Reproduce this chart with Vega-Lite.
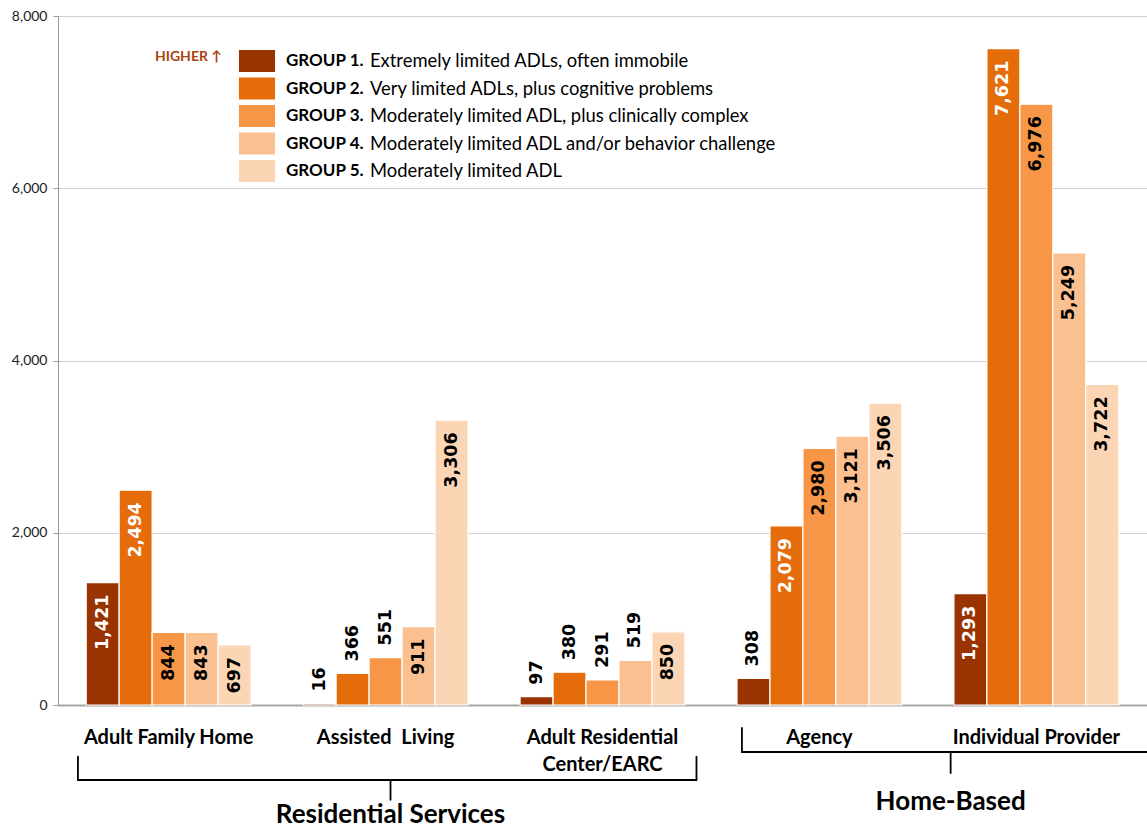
{
  "$schema": "https://vega.github.io/schema/vega-lite/v6.json",
  "autosize": {"type": "none"},
  "padding": {"left": 58, "top": 16, "right": 0, "bottom": 127},
  "width": 1089,
  "height": 689,
  "config": {
    "font": "Lato",
    "view": {"stroke": null},
    "legend": {"padding": 0}
  },
  "datasets": {
    "bars": [
      {"setting": "Adult Family Home", "group": "GROUP 1.", "desc": "Extremely limited ADLs, often immobile", "value": 1421},
      {"setting": "Adult Family Home", "group": "GROUP 2.", "desc": "Very limited ADLs, plus cognitive problems", "value": 2494},
      {"setting": "Adult Family Home", "group": "GROUP 3.", "desc": "Moderately limited ADL, plus clinically complex", "value": 844},
      {"setting": "Adult Family Home", "group": "GROUP 4.", "desc": "Moderately limited ADL and/or behavior challenge", "value": 843},
      {"setting": "Adult Family Home", "group": "GROUP 5.", "desc": "Moderately limited ADL", "value": 697},
      {"setting": "Assisted  Living", "group": "GROUP 1.", "desc": "Extremely limited ADLs, often immobile", "value": 16},
      {"setting": "Assisted  Living", "group": "GROUP 2.", "desc": "Very limited ADLs, plus cognitive problems", "value": 366},
      {"setting": "Assisted  Living", "group": "GROUP 3.", "desc": "Moderately limited ADL, plus clinically complex", "value": 551},
      {"setting": "Assisted  Living", "group": "GROUP 4.", "desc": "Moderately limited ADL and/or behavior challenge", "value": 911},
      {"setting": "Assisted  Living", "group": "GROUP 5.", "desc": "Moderately limited ADL", "value": 3306},
      {"setting": "Adult Residential Center/EARC", "group": "GROUP 1.", "desc": "Extremely limited ADLs, often immobile", "value": 97},
      {"setting": "Adult Residential Center/EARC", "group": "GROUP 2.", "desc": "Very limited ADLs, plus cognitive problems", "value": 380},
      {"setting": "Adult Residential Center/EARC", "group": "GROUP 3.", "desc": "Moderately limited ADL, plus clinically complex", "value": 291},
      {"setting": "Adult Residential Center/EARC", "group": "GROUP 4.", "desc": "Moderately limited ADL and/or behavior challenge", "value": 519},
      {"setting": "Adult Residential Center/EARC", "group": "GROUP 5.", "desc": "Moderately limited ADL", "value": 850},
      {"setting": "Agency", "group": "GROUP 1.", "desc": "Extremely limited ADLs, often immobile", "value": 308},
      {"setting": "Agency", "group": "GROUP 2.", "desc": "Very limited ADLs, plus cognitive problems", "value": 2079},
      {"setting": "Agency", "group": "GROUP 3.", "desc": "Moderately limited ADL, plus clinically complex", "value": 2980},
      {"setting": "Agency", "group": "GROUP 4.", "desc": "Moderately limited ADL and/or behavior challenge", "value": 3121},
      {"setting": "Agency", "group": "GROUP 5.", "desc": "Moderately limited ADL", "value": 3506},
      {"setting": "Individual Provider", "group": "GROUP 1.", "desc": "Extremely limited ADLs, often immobile", "value": 1293},
      {"setting": "Individual Provider", "group": "GROUP 2.", "desc": "Very limited ADLs, plus cognitive problems", "value": 7621},
      {"setting": "Individual Provider", "group": "GROUP 3.", "desc": "Moderately limited ADL, plus clinically complex", "value": 6976},
      {"setting": "Individual Provider", "group": "GROUP 4.", "desc": "Moderately limited ADL and/or behavior challenge", "value": 5249},
      {"setting": "Individual Provider", "group": "GROUP 5.", "desc": "Moderately limited ADL", "value": 3722}
    ],
    "braces": [
      {"label": "Residential Services", "first": "Adult Family Home", "middle": "Assisted  Living", "last": "Adult Residential Center/EARC"},
      {"label": "Home-Based", "first": "Agency", "middle": "Individual Provider", "last": "Individual Provider"}
    ]
  },
  "layer": [
    {
      "data": {"name": "bars"},
      "mark": {"type": "bar", "stroke": "white", "strokeWidth": 1.2},
      "encoding": {
        "x": {
          "field": "setting", "type": "nominal", "sort": null,
          "scale": {"domain": ["Adult Family Home", "Assisted  Living", "Adult Residential Center/EARC", "Agency", "Individual Provider"], "paddingInner": 0.24, "paddingOuter": 0.13},
          "axis": {
            "title": null, "ticks": false, "domainColor": "#a6a6a6", "domainWidth": 2,
            "labelAngle": 0, "labelFont": "Lato", "labelFontWeight": "bold", "labelFontSize": 20,
            "labelColor": "black", "labelPadding": 22, "labelLineHeight": 27, "labelLimit": 300,
            "labelExpr": "datum.value == 'Adult Residential Center/EARC' ? ['Adult Residential', 'Center/EARC'] : datum.value == 'Assisted  Living' ? 'Assisted\u00a0 Living' : datum.label"
          }
        },
        "xOffset": {"field": "group", "type": "nominal", "scale": {"paddingInner": 0}},
        "y": {
          "field": "value", "type": "quantitative",
          "scale": {"domain": [0, 8000], "nice": false},
          "axis": {
            "title": null, "values": [0, 2000, 4000, 6000, 8000], "format": ",.0f",
            "labelFont": "Lato", "labelFontSize": 14, "labelColor": "#222", "labelPadding": 6,
            "domainColor": "#9a9a9a", "tickColor": "#9a9a9a", "tickSize": 5,
            "gridColor": "#d0d0d0", "gridWidth": 1.2
          }
        },
        "color": {
          "field": "group", "type": "nominal",
          "scale": {"domain": ["GROUP 1.", "GROUP 2.", "GROUP 3.", "GROUP 4.", "GROUP 5."], "range": ["#993300", "#e46c0a", "#f79646", "#fac090", "#fcd5b5"]},
          "legend": {
            "orient": "none", "legendX": 97, "legendY": 34,
            "title": "HIGHER ↑", "titleOrient": "left", "titleAnchor": "start", "titleColor": "#a8450f", "titleFont": "Lato",
            "titleFontSize": 14, "titleFontWeight": "bold", "titlePadding": 24,
            "encode": {"title": {"update": {"dy": {"value": 5}}}},
            "symbolType": "M-1.64,-1H1.64V1H-1.64Z", "symbolSize": 484, "symbolStrokeWidth": 0, "symbolOpacity": 1,
            "labelFont": "Lato", "labelFontSize": 17, "labelFontWeight": "bold", "labelColor": "black",
            "labelOffset": 18, "rowPadding": 5.5
          }
        },
        "opacity": {
          "field": "desc", "type": "nominal",
          "scale": {"domain": ["Extremely limited ADLs, often immobile", "Very limited ADLs, plus cognitive problems", "Moderately limited ADL, plus clinically complex", "Moderately limited ADL and/or behavior challenge", "Moderately limited ADL"], "range": [1, 1, 1, 1, 1]},
          "legend": {
            "orient": "none", "legendX": 272, "legendY": 34, "title": null,
            "symbolType": "M-1.64,-1H1.64V1H-1.64Z", "symbolSize": 484, "symbolOpacity": 0, "symbolStrokeWidth": 0,
            "symbolFillColor": "transparent", "symbolStrokeColor": "transparent",
            "labelFont": "Lato", "labelFontSize": 18.4, "labelColor": "black", "labelLimit": 600,
            "labelOffset": 18, "rowPadding": 5.5,
            "encode": {"symbols": {"update": {"opacity": {"value": 0}, "fillOpacity": {"value": 0}}}}
          }
        }
      }
    },
    {
      "data": {"name": "bars"},
      "transform": [{"filter": "datum.value >= 600"}],
      "mark": {"type": "text", "angle": 270, "align": "right", "baseline": "middle", "dx": -12, "font": "DejaVu Sans", "fontWeight": "bold", "fontSize": 17.5},
      "encoding": {
        "x": {"field": "setting", "type": "nominal", "sort": null},
        "xOffset": {"field": "group", "type": "nominal"},
        "y": {"field": "value", "type": "quantitative"},
        "text": {"field": "value", "type": "quantitative", "format": ","},
        "color": {"condition": {"test": "datum.group == 'GROUP 1.' || datum.group == 'GROUP 2.'", "value": "white"}, "value": "black"}
      }
    },
    {
      "data": {"name": "bars"},
      "transform": [{"filter": "datum.value < 600"}],
      "mark": {"type": "text", "angle": 270, "align": "left", "baseline": "middle", "dx": 12, "font": "DejaVu Sans", "fontWeight": "bold", "fontSize": 17.5, "color": "black"},
      "encoding": {
        "x": {"field": "setting", "type": "nominal", "sort": null},
        "xOffset": {"field": "group", "type": "nominal"},
        "y": {"field": "value", "type": "quantitative"},
        "text": {"field": "value", "type": "quantitative", "format": ","}
      }
    },
    {
      "data": {"name": "braces"},
      "transform": [{"filter": "datum.label == 'Residential Services'"}],
      "layer": [
        {
          "mark": {"type": "rule", "color": "black", "strokeWidth": 1.8, "strokeCap": "round"},
          "encoding": {
            "x": {"field": "first", "type": "nominal", "bandPosition": -0.05},
            "x2": {"field": "last", "bandPosition": 1.07},
            "y": {"datum": -871}
          }
        },
        {
          "mark": {"type": "rule", "color": "black", "strokeWidth": 1.8, "strokeCap": "round"},
          "encoding": {
            "x": {"field": "first", "type": "nominal", "bandPosition": -0.05},
            "y": {"datum": -600},
            "y2": {"datum": -871}
          }
        },
        {
          "mark": {"type": "rule", "color": "black", "strokeWidth": 1.8, "strokeCap": "round"},
          "encoding": {
            "x": {"field": "last", "type": "nominal", "bandPosition": 1.07},
            "y": {"datum": -600},
            "y2": {"datum": -871}
          }
        },
        {
          "mark": {"type": "rule", "color": "black", "strokeWidth": 1.8, "strokeCap": "round"},
          "encoding": {
            "x": {"field": "middle", "type": "nominal", "bandPosition": 0.53},
            "y": {"datum": -871},
            "y2": {"datum": -1100}
          }
        },
        {
          "mark": {"type": "text", "font": "Lato", "fontWeight": "bold", "fontSize": 26, "color": "black", "baseline": "middle"},
          "encoding": {
            "x": {"field": "middle", "type": "nominal", "bandPosition": 0.53},
            "y": {"datum": -1278},
            "text": {"field": "label"}
          }
        }
      ]
    },
    {
      "data": {"name": "braces"},
      "transform": [{"filter": "datum.label == 'Home-Based'"}],
      "layer": [
        {
          "mark": {"type": "rule", "color": "black", "strokeWidth": 1.8, "strokeCap": "round"},
          "encoding": {
            "x": {"field": "first", "type": "nominal", "bandPosition": 0.03},
            "x2": {"field": "last", "bandPosition": 1.2},
            "y": {"datum": -546}
          }
        },
        {
          "mark": {"type": "rule", "color": "black", "strokeWidth": 1.8, "strokeCap": "round"},
          "encoding": {
            "x": {"field": "first", "type": "nominal", "bandPosition": 0.03},
            "y": {"datum": -267},
            "y2": {"datum": -546}
          }
        },
        {
          "mark": {"type": "rule", "color": "black", "strokeWidth": 1.8, "strokeCap": "round"},
          "encoding": {
            "x": {"field": "middle", "type": "nominal", "bandPosition": -0.02},
            "y": {"datum": -546},
            "y2": {"datum": -790}
          }
        },
        {
          "mark": {"type": "text", "font": "Lato", "fontWeight": "bold", "fontSize": 26, "color": "black", "baseline": "middle"},
          "encoding": {
            "x": {"field": "middle", "type": "nominal", "bandPosition": -0.02},
            "y": {"datum": -1127},
            "text": {"field": "label"}
          }
        }
      ]
    }
  ]
}
